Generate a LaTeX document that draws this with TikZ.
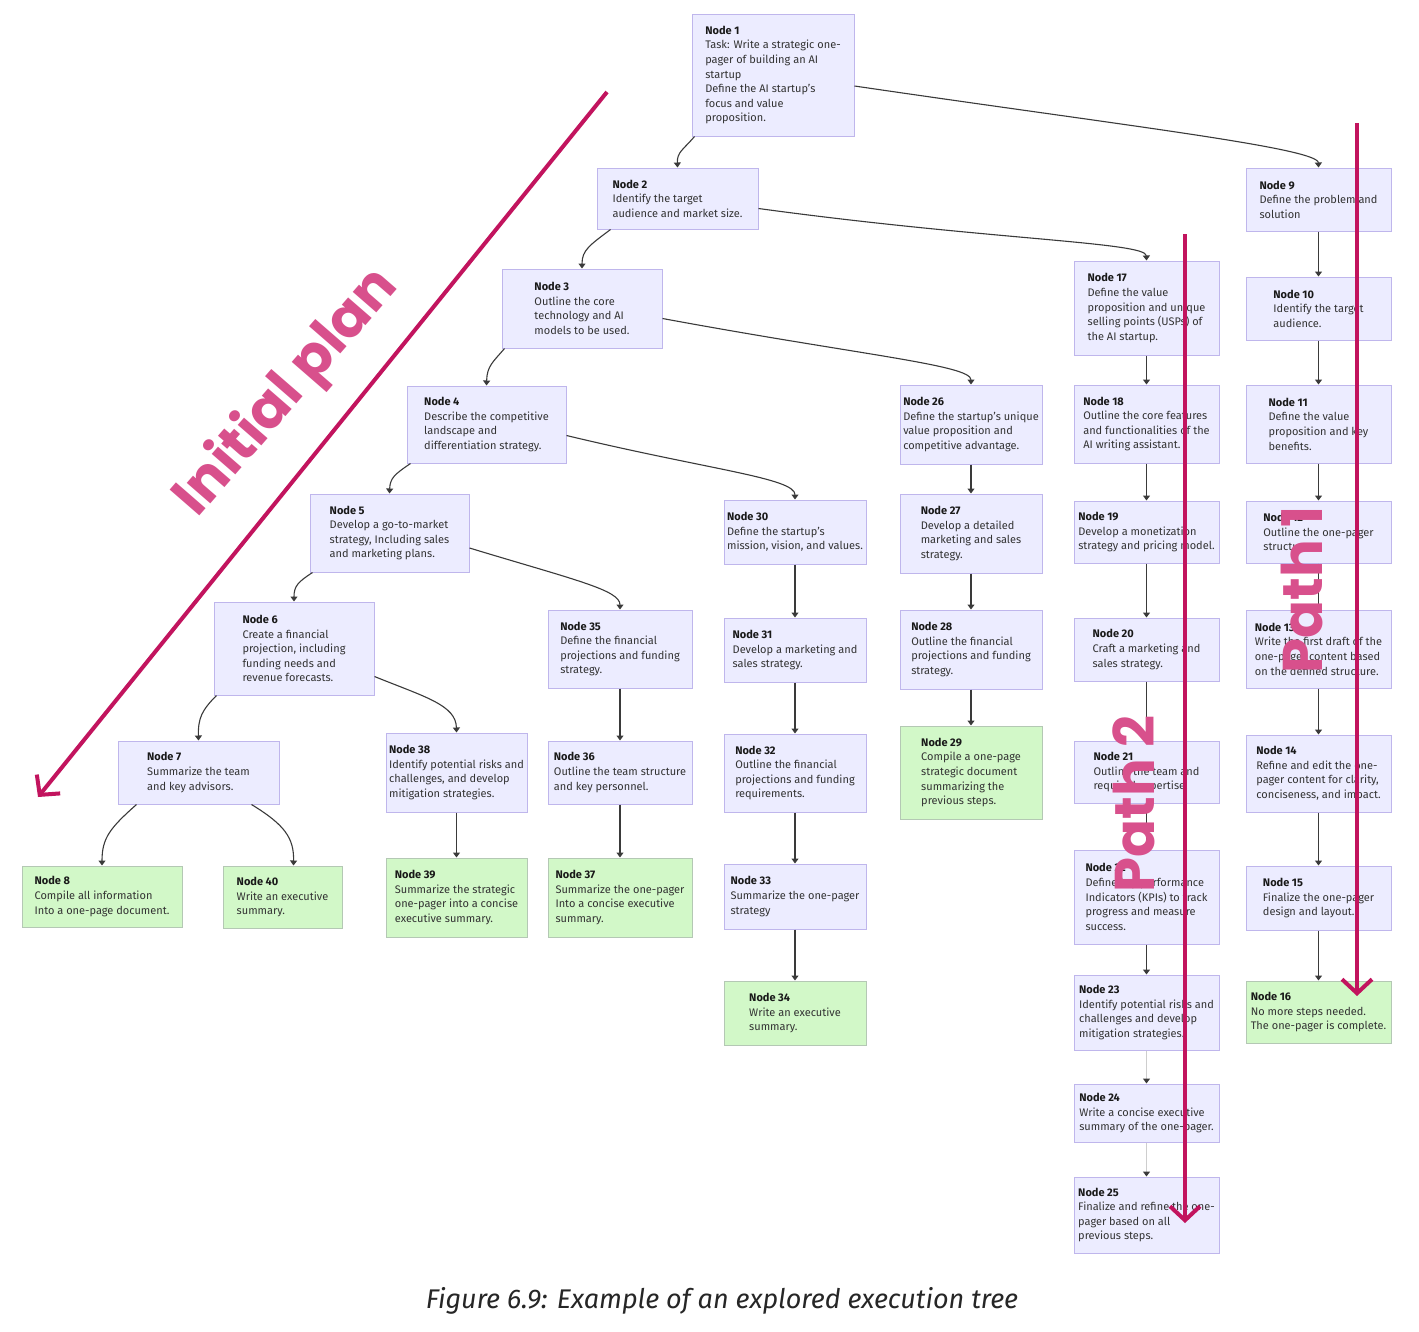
\documentclass[tikz,border=0pt]{standalone}
\usepackage{fontspec}
\setmainfont{Fira Sans}
\newfontfamily\annotfont{Poppins}
\usetikzlibrary{arrows.meta}
\definecolor{lavfill}{HTML}{ECECFF}
\definecolor{lavdraw}{HTML}{BFB6EC}
\definecolor{grnfill}{HTML}{D2F8C8}
\definecolor{grndraw}{HTML}{B4C8B4}
\definecolor{conncol}{HTML}{3A3A3A}
\definecolor{hlcol}{HTML}{C2145E}
\definecolor{hltext}{HTML}{D8508C}
\definecolor{bodytext}{HTML}{333333}
\tikzset{
  treebox/.style={draw=lavdraw, fill=lavfill, line width=1pt, align=left, inner sep=2pt,
    font=\fontsize{11}{14.6}\selectfont, text=bodytext},
  lav/.style={treebox},
  grn/.style={treebox, draw=grndraw, fill=grnfill},
  conn/.style={draw=conncol, line width=1.1pt, -{Triangle[length=5pt,width=7pt]}},
  faintconn/.style={draw=conncol!25, line width=1.1pt, -{Triangle[length=5pt,width=7pt,color=conncol,fill=conncol]}},
  hl/.style={draw=hlcol, line width=4pt, -{Straight Barb[length=14pt,width=30pt]}},
  annot/.style={text=hltext, font=\annotfont\bfseries\fontsize{56}{60}\selectfont, inner sep=0pt},
  captionstyle/.style={text=black!85, font=\itshape\fontsize{27}{30}\selectfont, inner sep=0pt}
}
\newcommand{\tn}[7][lav]{%
  \node[#1, minimum width={(#5-#3)*1pt}, minimum height={(#6-#4)*1pt}] (#2) at ({(#3+#5)/2},{(#4+#6)/2}) {#7};}
\newcommand{\nt}[1]{\textbf{\color{black!90}Node #1}}
\begin{document}
\begin{tikzpicture}[x=1pt,y=-1pt]
\path[fill=white,use as bounding box] (0,0) rectangle (1419,1331);

% left diagonal chain
\tn{n1}{692}{14}{854}{136}{\nt{1}\\Task: Write a strategic one-\\pager of building an AI\\startup\\Define the AI startup's\\focus and value\\proposition.}
\tn{n2}{597}{168}{758}{229}{\nt{2}\\Identify the target\\audience and market size.}
\tn{n3}{502}{269}{662}{348}{\nt{3}\\Outline the core\\technology and AI\\models to be used.}
\tn{n4}{407}{386}{566}{463}{\nt{4}\\Describe the competitive\\landscape and\\differentiation strategy.}
\tn{n5}{310}{494}{469}{572}{\nt{5}\\Develop a go-to-market\\strategy, Including sales\\and marketing plans.}
\tn{n6}{214}{602}{374}{695}{\nt{6}\\Create a financial\\projection, including\\funding needs and\\revenue forecasts.}
\tn{n7}{118}{741}{279}{804}{\nt{7}\\Summarize the team\\and key advisors.}
\tn[grn]{n8}{22}{866}{182}{927}{\nt{8}\\Compile all information\\Into a one-page document.}
\tn[grn]{n40}{223}{866}{342}{928}{\nt{40}\\Write an executive\\summary.}
% column 38
\tn{n38}{386}{733}{527}{812}{\nt{38}\\Identify potential risks and\\challenges, and develop\\mitigation strategies.}
\tn[grn]{n39}{386}{858}{527}{937}{\nt{39}\\Summarize the strategic\\one-pager into a concise\\executive summary.}
% column 35
\tn{n35}{548}{610}{692}{688}{\nt{35}\\Define the financial\\projections and funding\\strategy.}
\tn{n36}{548}{741}{692}{804}{\nt{36}\\Outline the team structure\\and key personnel.}
\tn[grn]{n37}{548}{858}{692}{937}{\nt{37}\\Summarize the one-pager\\Into a concise executive\\summary.}
% column 30
\tn{n30}{724}{500}{866}{564}{\nt{30}\\Define the startup's\\mission, vision, and values.}
\tn{n31}{724}{618}{866}{682}{\nt{31}\\Develop a marketing and\\sales strategy.}
\tn{n32}{724}{734}{866}{812}{\nt{32}\\Outline the financial\\projections and funding\\requirements.}
\tn{n33}{724}{864}{866}{929}{\nt{33}\\Summarize the one-pager\\strategy}
\tn[grn]{n34}{724}{981}{866}{1045}{\nt{34}\\Write an executive\\summary.}
% column 26
\tn{n26}{900}{385}{1042}{464}{\nt{26}\\Define the startup's unique\\value proposition and\\competitive advantage.}
\tn{n27}{900}{494}{1042}{573}{\nt{27}\\Develop a detailed\\marketing and sales\\strategy.}
\tn{n28}{900}{610}{1042}{689}{\nt{28}\\Outline the financial\\projections and funding\\strategy.}
\tn[grn]{n29}{900}{726}{1042}{819}{\nt{29}\\Compile a one-page\\strategic document\\summarizing the\\previous steps.}
% column 17
\tn{n17}{1074}{261}{1219}{355}{\nt{17}\\Define the value\\proposition and unique\\selling points (USPs) of\\the AI startup.}
\tn{n18}{1074}{385}{1219}{463}{\nt{18}\\Outline the core features\\and functionalities of the\\AI writing assistant.}
\tn{n19}{1074}{501}{1219}{563}{\nt{19}\\Develop a monetization\\strategy and pricing model.}
\tn{n20}{1074}{618}{1219}{681}{\nt{20}\\Craft a marketing and\\sales strategy.}
\tn{n21}{1074}{741}{1219}{803}{\nt{21}\\Outline the team and\\required expertise.}
\tn{n22}{1074}{850}{1219}{944}{\nt{22}\\Define key performance\\Indicators (KPIs) to track\\progress and measure\\success.}
\tn{n23}{1074}{975}{1219}{1050}{\nt{23}\\Identify potential risks and\\challenges and develop\\mitigation strategies.}
\tn{n24}{1074}{1084}{1219}{1142}{\nt{24}\\Write a concise executive\\summary of the one-pager.}
\tn{n25}{1074}{1177}{1219}{1253}{\nt{25}\\Finalize and refine the one-\\pager based on all\\previous steps.}
% column 9
\tn{n9}{1246}{168}{1391}{231}{\nt{9}\\Define the problem and\\solution}
\tn{n10}{1246}{277}{1391}{340}{\nt{10}\\Identify the target\\audience.}
\tn{n11}{1246}{385}{1391}{463}{\nt{11}\\Define the value\\proposition and key\\benefits.}
\tn{n12}{1246}{501}{1391}{563}{\nt{12}\\Outline the one-pager\\structure.}
\tn{n13}{1246}{610}{1391}{688}{\nt{13}\\Write the first draft of the\\one-pager content based\\on the defined structure.}
\tn{n14}{1246}{735}{1391}{812}{\nt{14}\\Refine and edit the one-\\pager content for clarity,\\conciseness, and impact.}
\tn{n15}{1246}{866}{1391}{930}{\nt{15}\\Finalize the one-pager\\design and layout.}
\tn[grn]{n16}{1246}{981}{1391}{1043}{\nt{16}\\No more steps needed.\\The one-pager is complete.}

% curved connectors
\draw[conn] ([xshift=3pt]n1.south west) .. controls (683,150) and (677,152) .. (n2.north);
\draw[conn] ([yshift=-11pt]n1.east) .. controls (1120,125) and (1318,148) .. (n9.north);
\draw[conn] ([yshift=-10pt]n2.east) .. controls (990,240) and (1146,242) .. (n17.north);
\draw[conn] ([xshift=14pt]n2.south west) .. controls (590,245) and (582,250) .. (n3.north);
\draw[conn] ([yshift=-10pt]n3.east) .. controls (860,355) and (971,365) .. (n26.north);
\draw[conn] ([xshift=3pt]n3.south west) .. controls (493,362) and (487,366) .. (n4.north);
\draw[conn] ([yshift=-11pt]n4.east) .. controls (710,470) and (795,478) .. (n30.north);
\draw[conn] ([xshift=4pt]n4.south west) .. controls (395,474) and (390,478) .. (n5.north);
\draw[conn] ([yshift=-15pt]n5.east) .. controls (575,580) and (620,590) .. (n35.north);
\draw[conn] ([xshift=3pt]n5.south west) .. controls (298,582) and (294,586) .. (n6.north);
\draw[conn] ([yshift=-28pt]n6.east) .. controls (425,697) and (456,705) .. (n38.north);
\draw[conn] ([xshift=3pt]n6.south west) .. controls (202,710) and (198,718) .. (n7.north);
\draw[conn] ([xshift=19pt]n7.south west) .. controls (110,828) and (102,838) .. (n8.north);
\draw[conn] ([xshift=-28pt]n7.south east) .. controls (285,825) and (294,838) .. ([xshift=11pt]n40.north);

% straight connectors
\foreach \a/\b in {n9/n10,n10/n11,n11/n12,n12/n13,n13/n14,n14/n15,n15/n16,
  n17/n18,n18/n19,n19/n20,n20/n21,n21/n22,n22/n23,
  n26/n27,n27/n28,n28/n29,n30/n31,n31/n32,n32/n33,n33/n34,
  n35/n36,n36/n37,n38/n39}
  \draw[conn] (\a.south) -- (\b.north);
\draw[faintconn] (n23.south) -- (n24.north);
\draw[faintconn] (n24.south) -- (n25.north);

% highlight annotations
\coordinate (ipS) at (607,92);
\coordinate (ipE) at (38,797);
\coordinate (p1S) at (1357,123);
\coordinate (p1E) at (1357,996);
\coordinate (p2S) at (1185,234);
\coordinate (p2E) at (1185,1223);
\draw[hl] (ipS) -- (ipE);
\draw[hl] (p1S) -- (p1E);
\draw[hl] (p2S) -- (p2E);
\node[annot, rotate=49] (iplab) at (287,393) {Initial plan};
\node[annot, rotate=90] (p1lab) at (1302,590) {Path 1};
\node[annot, rotate=90] (p2lab) at (1134,804) {Path 2};

\node[captionstyle] (cap) at (722,1301) {Figure 6.9: Example of an explored execution tree};
\end{tikzpicture}
\end{document}
